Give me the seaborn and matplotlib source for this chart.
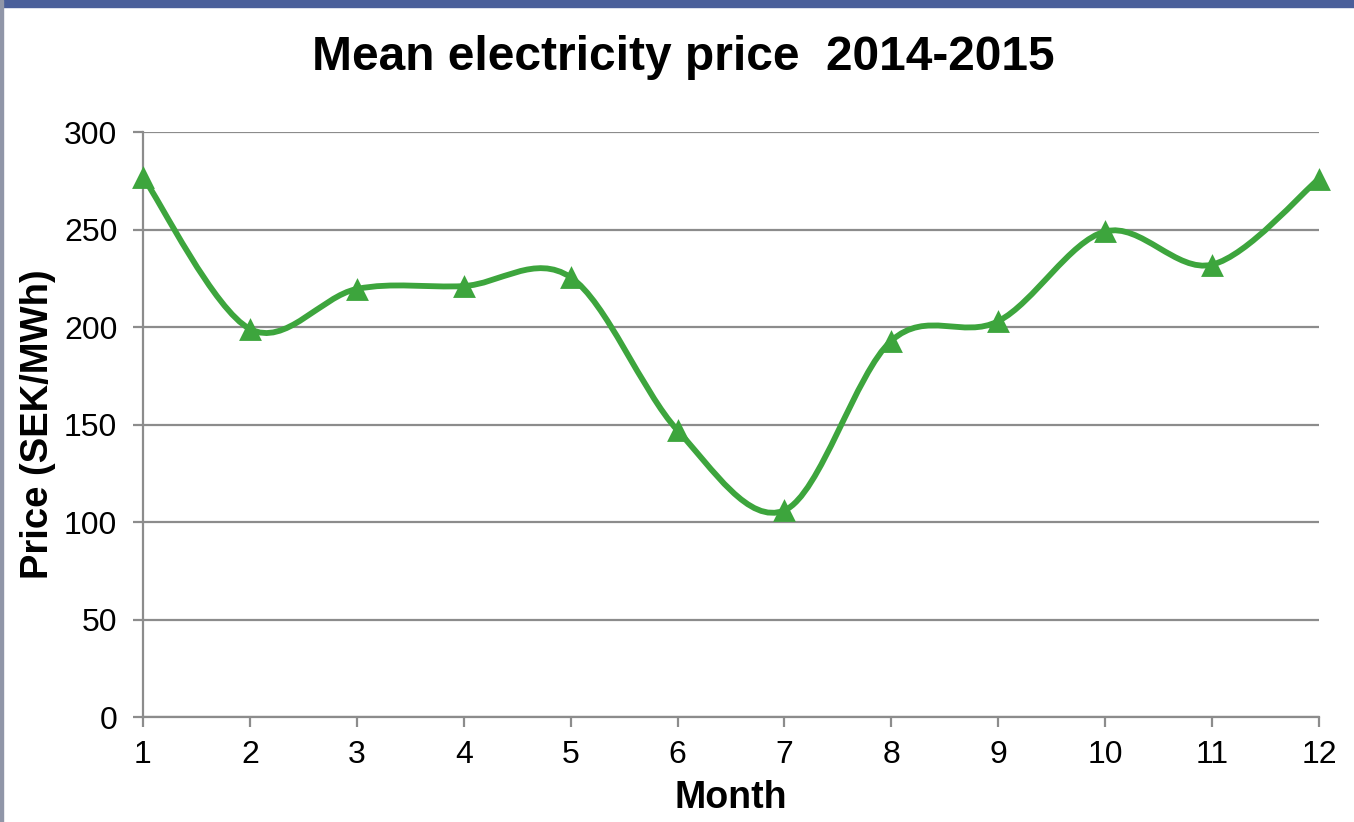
import matplotlib
matplotlib.use("Agg")
import matplotlib.pyplot as plt
import matplotlib.patches as mpatches
from matplotlib.path import Path
import numpy as np
import pandas as pd
import seaborn as sns

# Monthly mean electricity price
months = [1, 2, 3, 4, 5, 6, 7, 8, 9, 10, 11, 12]
price = [277, 199, 219.5, 221, 225.5, 147, 106, 193, 203, 249, 232, 276]
y_ticks = [0, 50, 100, 150, 200, 250, 300]

GREEN = "#3da53d"
GRID = "#8c8c8c"

sns.set_theme(style="white")
plt.rcParams["font.family"] = ["Liberation Sans", "DejaVu Sans"]
plt.rcParams["text.color"] = "black"
plt.rcParams["axes.labelcolor"] = "black"

df = pd.DataFrame({"month": months, "price": price})

fig = plt.figure(figsize=(13.54, 8.22), dpi=100)
ax = fig.add_axes([0.1056, 0.1277, 0.8686, 0.7117])

# slide background remnants (blue band at top, grey edge at left)
fig.patches.append(mpatches.Rectangle((0, 1 - 7 / 822), 1, 7 / 822, transform=fig.transFigure,
                                      color="#4a5f9a", zorder=0))
fig.patches.append(mpatches.Rectangle((0, 0), 3 / 1354, 1, transform=fig.transFigure,
                                      color="#9096a8", zorder=0))

# smoothed line (Catmull-Rom as Bezier segments through the data points)
pts = df[["month", "price"]].to_numpy(dtype=float)
ext = np.vstack([pts[0], pts, pts[-1]])
verts = [tuple(pts[0])]
codes = [Path.MOVETO]
for i in range(1, len(ext) - 2):
    p0, p1, p2, p3 = ext[i - 1], ext[i], ext[i + 1], ext[i + 2]
    c1 = p1 + (p2 - p0) / 6
    c2 = p2 - (p3 - p1) / 6
    verts += [tuple(c1), tuple(c2), tuple(p2)]
    codes += [Path.CURVE4] * 3
ax.add_patch(mpatches.PathPatch(Path(verts, codes), facecolor="none", edgecolor=GREEN,
                                lw=4.2, zorder=3, clip_on=False, capstyle="round"))

sns.scatterplot(data=df, x="month", y="price", marker="^", s=270, color=GREEN,
                edgecolor=GREEN, linewidth=0, zorder=4, clip_on=False, ax=ax)

ax.set_xlim(1, 12)
ax.set_ylim(0, 300)
ax.set_xticks(months)
ax.set_yticks(y_ticks)
ax.yaxis.grid(True, color=GRID, lw=1.6)
ax.xaxis.grid(False)
for s in ["top", "right"]:
    ax.spines[s].set_visible(False)
for s in ["left", "bottom"]:
    ax.spines[s].set_color(GRID)
    ax.spines[s].set_linewidth(1.6)
ax.tick_params(axis="both", which="major", direction="out", length=7.5, width=1.6,
               color=GRID, labelsize=23, labelcolor="black")
ax.tick_params(axis="x", bottom=True, pad=9)
ax.tick_params(axis="y", left=True, pad=11)

ax.set_xlabel("Month", fontsize=27, fontweight="bold", labelpad=7)
ax.set_ylabel("Price (SEK/MWh)", fontsize=27.5, fontweight="bold", labelpad=6)
fig.text(0.505, 0.93, "Mean electricity price  2014-2015", ha="center", va="center",
         fontsize=34.5, fontweight="bold", color="black")

fig.savefig("out.png", dpi=100)
plt.close(fig)
